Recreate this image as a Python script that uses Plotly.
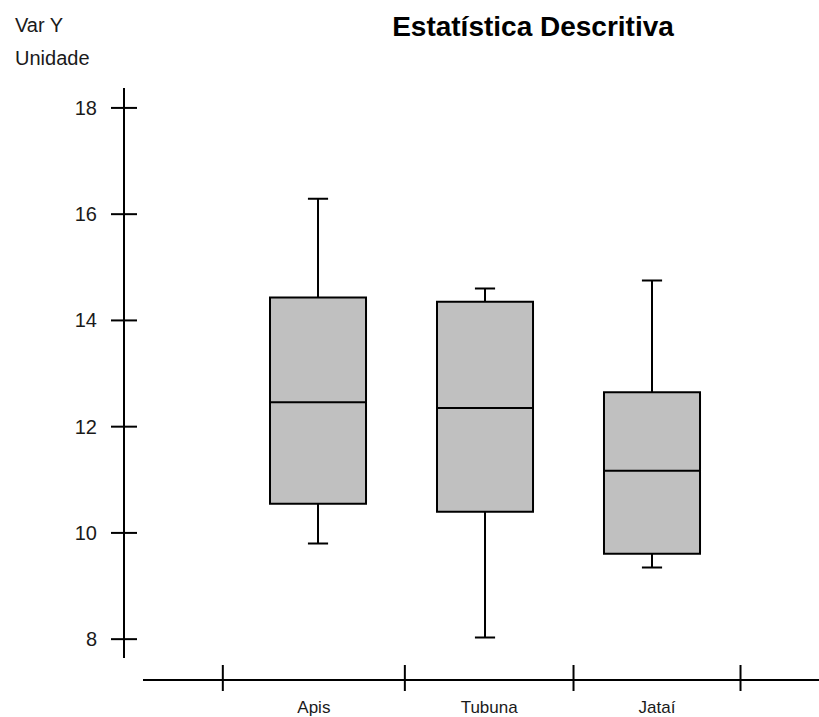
import plotly.graph_objects as go

# ---- data ----
categories = ["Apis", "Tubuna", "Jataí"]
box_positions = [1, 2, 3]
lower_whisker = [9.80, 8.03, 9.35]
q1_values = [10.55, 10.40, 9.61]
median_values = [12.46, 12.35, 11.17]
q3_values = [14.43, 14.35, 12.65]
upper_whisker = [16.29, 14.60, 14.75]

y_tick_values = [8, 10, 12, 14, 16, 18]
x_boundary_ticks = [0.43, 1.52, 2.53, 3.53]
label_positions = [(a + b) / 2 for a, b in zip(x_boundary_ticks[:-1], x_boundary_ticks[1:])]

FONT = "Liberation Sans, Arial, sans-serif"
TXT = "#1a1a1a"

fig = go.Figure()
fig.add_trace(go.Box(
    x=box_positions,
    q1=q1_values, median=median_values, q3=q3_values,
    lowerfence=lower_whisker, upperfence=upper_whisker,
    width=0.575, whiskerwidth=0.21,
    fillcolor="#c0c0c0",
    line=dict(color="black", width=2),
    boxpoints=False, showlegend=False, hoverinfo="skip",
))

shapes = []
for v in y_tick_values:
    shapes.append(dict(type="line", xref="paper", yref="y", xsizemode="pixel", xanchor=0,
                       x0=-13, x1=13, y0=v, y1=v, line=dict(color="black", width=2)))
for v in x_boundary_ticks:
    shapes.append(dict(type="line", xref="x", yref="paper", ysizemode="pixel", yanchor=0,
                       x0=v, x1=v, y0=-11, y1=15, line=dict(color="black", width=2)))

fig.update_layout(
    width=819, height=717,
    margin=dict(l=124, r=0, t=88, b=35),
    paper_bgcolor="white", plot_bgcolor="white",
    font=dict(family=FONT, color=TXT),
    title=dict(text="<b>Estatística Descritiva</b>", xref="container", yref="container",
               x=533 / 819, xanchor="center", y=1 - 26 / 717, yanchor="middle",
               font=dict(family=FONT, size=28, color="black")),
    xaxis=dict(range=[-0.048, 4.0], domain=[19 / 695, 1], anchor="free", position=0,
               showline=True, linecolor="black", linewidth=2,
               tickvals=label_positions, ticktext=categories,
               ticks="outside", ticklen=12, tickcolor="rgba(0,0,0,0)",
               tickfont=dict(size=17, color=TXT),
               showgrid=False, zeroline=False, fixedrange=True),
    yaxis=dict(range=[7.644, 18.375], domain=[22 / 594, 1], anchor="free", position=0,
               showline=True, linecolor="black", linewidth=2,
               tickvals=y_tick_values, ticks="outside", ticklen=13, tickcolor="rgba(0,0,0,0)",
               tickfont=dict(size=20, color=TXT), ticklabelstandoff=9,
               showgrid=False, zeroline=False, fixedrange=True),
    shapes=shapes,
    annotations=[
        dict(text="Var Y", xref="paper", yref="paper", x=-111 / 695, y=(682 - 25) / 594,
             xanchor="left", yanchor="middle", showarrow=False,
             font=dict(family=FONT, size=20, color=TXT)),
        dict(text="Unidade", xref="paper", yref="paper", x=-111 / 695, y=(682 - 58) / 594,
             xanchor="left", yanchor="middle", showarrow=False,
             font=dict(family=FONT, size=20, color=TXT)),
    ],
)

fig.write_html("out.html", config={"displayModeBar": False},
               post_script="document.body.style.margin='0px';")
